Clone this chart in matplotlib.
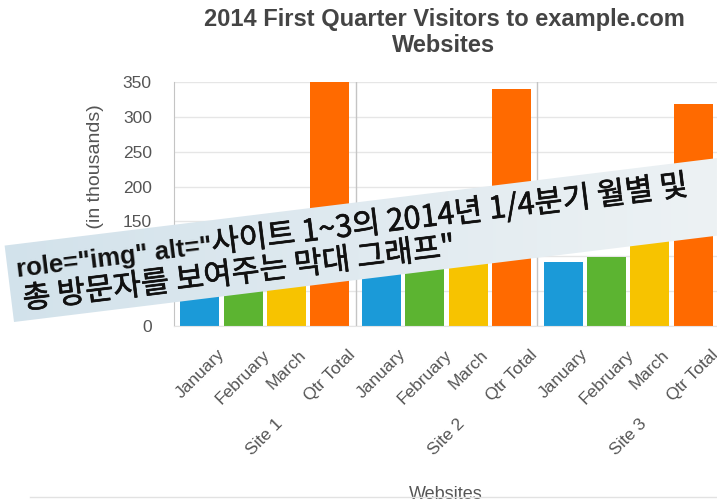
import numpy as np
import matplotlib
matplotlib.use('Agg')
import matplotlib.pyplot as plt
import matplotlib.patheffects as pe
from matplotlib.patches import Rectangle
from matplotlib.colors import LinearSegmentedColormap

plt.rcParams['font.family'] = ['Liberation Sans', 'DejaVu Sans']

# data (visitors, in thousands)
sites = ['Site 1', 'Site 2', 'Site 3']
months = ['January', 'February', 'March', 'Qtr Total']
january = [100, 110, 92]
february = [110, 105, 99]
march = [140, 125, 128]
qtr_total = [350, 340, 318]

bar_colors = ['#1b9ad8', '#5cb431', '#f7c300', '#ff6a00']
banner_prefix = 'role="img" alt="'
banner_line1 = '사이트 1~3의 2014년 1/4분기 월별 및'
banner_line2 = '총 방문자를 보여주는 막대 그래프"'

W, H = 717, 499
fig = plt.figure(figsize=(W / 100, H / 100), dpi=100)
ax = fig.add_axes([174 / W, 1 - 326 / H, 545 / W, 244 / H])

group_w = 4.2
series = [january, february, march, qtr_total]
tick_pos, tick_lab = [], []
for i, (vals, col) in enumerate(zip(series, bar_colors)):
    x = np.arange(len(sites)) * group_w + 0.6 + i
    ax.bar(x, vals, width=0.9, color=col, zorder=2)
    tick_pos += list(x)
    tick_lab += [months[i]] * len(sites)

order = np.argsort(tick_pos)
ax.set_xticks(np.array(tick_pos)[order])
ax.set_xticklabels(np.array(tick_lab)[order], rotation=45, ha='center', va='top',
                   fontsize=12.5, color='#555555')
ax.tick_params(axis='x', length=0, pad=15)

ax.set_xlim(0, group_w * len(sites))
ax.set_ylim(0, 350)
ax.set_yticks(range(0, 351, 50))
ax.tick_params(axis='y', length=0, pad=16, labelsize=12.5, labelcolor='#555555')
ax.yaxis.grid(True, color='#e6e6e6', lw=1, zorder=0)
ax.set_axisbelow(True)

for s in ['top', 'right']:
    ax.spines[s].set_visible(False)
ax.spines['left'].set_color('#c4c4c4')
ax.spines['bottom'].set_color('#e4e4e4')
for g in range(1, len(sites) + 1):
    ax.axvline(g * group_w, color='#c4c4c4', lw=1, zorder=1)

for g, name in enumerate(sites):
    ax.text(g * group_w + group_w / 2, -0.37, name, transform=ax.get_xaxis_transform(),
            rotation=45, ha='center', va='top', fontsize=12.5, color='#555555')

fig.text(444 / W, 1 - 8 / H, '2014 First Quarter Visitors to example.com\nWebsites',
         ha='center', va='top', fontsize=17, weight='bold', color='#444444',
         linespacing=1.15)
fig.text(96 / W, 1 - 104 / H, 'Visitors (in thousands)', rotation=90,
         ha='center', va='top', fontsize=14, color='#555555')
fig.text(446 / W, 1 - 486 / H, 'Websites', ha='center', va='top', fontsize=13,
         color='#555555')

# overlay banner, pixel coordinates (y up)
ov = fig.add_axes([0, 0, 1, 1])
ov.set_zorder(10)
ov.set_xlim(0, W)
ov.set_ylim(0, H)
ov.axis('off')
ov.plot([30, W], [2, 2], color='#e2e2e2', lw=1)

angle = 7
rect = Rectangle((14, H - 322), 800, 77, angle=angle, facecolor='none', edgecolor='none')
ov.add_patch(rect)
grad = np.linspace(0, 1, 256).reshape(1, -1)
cmap = LinearSegmentedColormap.from_list('banner', ['#d2e2eb', '#e0eaf0', '#edf2f4'])
im = ov.imshow(grad, extent=(0, W, 140, 360), cmap=cmap, aspect='auto', zorder=3)
im.set_clip_path(rect.get_path(), rect.get_transform())
ov.set_xlim(0, W)
ov.set_ylim(0, H)

a = np.deg2rad(angle)
x0, y0 = 17, H - 277
step = 32
kw = dict(rotation=angle, rotation_mode='anchor', ha='left', va='baseline',
          color='#111111', zorder=4)
thick = [pe.withStroke(linewidth=0.5, foreground='#111111')]
t0 = ov.text(x0, y0, banner_prefix, fontsize=18.5, weight='bold',
             family='Liberation Sans', **kw)
fig.canvas.draw()
t0.set_rotation(0)
w0 = t0.get_window_extent().width
t0.set_rotation(angle)
ov.text(x0 + w0 * np.cos(a), y0 + w0 * np.sin(a), banner_line1, fontsize=22,
        family=['Noto Sans CJK KR', 'DejaVu Sans'], path_effects=thick, **kw)
ov.text(x0 + 3 + step * np.sin(a), y0 - step * np.cos(a), banner_line2, fontsize=22,
        family=['Noto Sans CJK KR', 'DejaVu Sans'], path_effects=thick, **kw)

fig.savefig('out.png', dpi=100)
